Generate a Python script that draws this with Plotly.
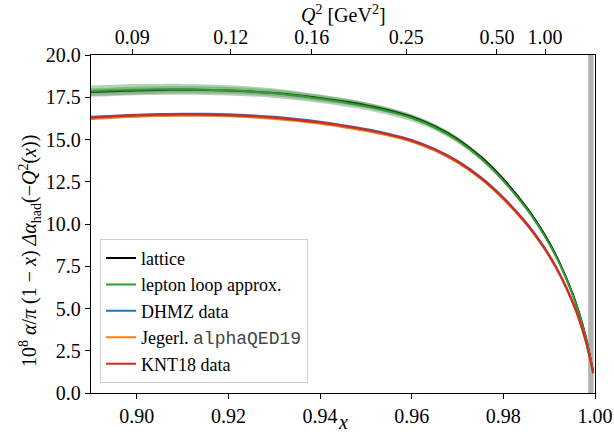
import plotly.graph_objects as go

# ---------------- data ----------------
x_vals = [0.890, 0.895, 0.900, 0.905, 0.910, 0.915, 0.920, 0.925, 0.930, 0.935,
          0.940, 0.945, 0.950, 0.955, 0.960, 0.965, 0.970, 0.975, 0.980, 0.985,
          0.9875, 0.990, 0.9925, 0.995, 0.9965, 0.998, 0.999, 0.9996]

lattice = [17.81, 17.86, 17.90, 17.93, 17.94, 17.93, 17.90, 17.84, 17.75, 17.62,
           17.45, 17.26, 17.03, 16.73, 16.35, 15.79, 15.03, 13.99, 12.65, 11.00,
           10.02, 8.90, 7.57, 5.95, 4.77, 3.30, 2.06, 1.22]
lattice_err = [0.22, 0.22, 0.22, 0.22, 0.21, 0.21, 0.20, 0.20, 0.19, 0.19,
               0.18, 0.17, 0.17, 0.16, 0.15, 0.14, 0.13, 0.12, 0.11, 0.09,
               0.08, 0.07, 0.06, 0.05, 0.04, 0.03, 0.02, 0.01]

lepton = [17.86, 17.91, 17.95, 17.97, 17.97, 17.95, 17.91, 17.84, 17.74, 17.59,
          17.41, 17.21, 16.97, 16.66, 16.27, 15.71, 14.94, 13.90, 12.56, 10.92,
          9.95, 8.83, 7.51, 5.90, 4.73, 3.27, 2.04, 1.22]
lepton_err = [0.33, 0.33, 0.33, 0.32, 0.32, 0.31, 0.30, 0.29, 0.28, 0.27,
              0.25, 0.24, 0.22, 0.21, 0.19, 0.17, 0.15, 0.13, 0.11, 0.09,
              0.08, 0.07, 0.06, 0.05, 0.04, 0.03, 0.02, 0.01]

dhmz = [16.34, 16.41, 16.47, 16.51, 16.53, 16.52, 16.49, 16.43, 16.34, 16.21,
        16.05, 15.85, 15.62, 15.34, 14.98, 14.45, 13.74, 12.79, 11.57, 10.08,
        9.19, 8.17, 6.96, 5.48, 4.42, 3.08, 1.95, 1.19]
jegerlehner = [16.22, 16.29, 16.35, 16.39, 16.41, 16.40, 16.37, 16.31, 16.22, 16.09,
               15.93, 15.73, 15.50, 15.22, 14.87, 14.34, 13.63, 12.68, 11.46, 9.98,
               9.09, 8.08, 6.87, 5.41, 4.36, 3.03, 1.91, 1.15]
knt18 = [16.29, 16.36, 16.42, 16.46, 16.48, 16.47, 16.44, 16.38, 16.29, 16.16,
         16.00, 15.80, 15.57, 15.29, 14.93, 14.40, 13.69, 12.74, 11.52, 10.03,
         9.14, 8.13, 6.92, 5.45, 4.39, 3.05, 1.93, 1.17]

# top axis: Q^2 tick labels and their positions in x
q2_tick_x = [0.8990, 0.9205, 0.9382, 0.9588, 0.9786, 0.9891]
q2_tick_labels = ["0.09", "0.12", "0.16", "0.25", "0.50", "1.00"]

x_ticks = [0.90, 0.92, 0.94, 0.96, 0.98, 1.00]
y_ticks = [0.0, 2.5, 5.0, 7.5, 10.0, 12.5, 15.0, 17.5, 20.0]

# excluded region near x = 1
cut_lo, cut_hi = 0.9985, 0.9997

X_RANGE = [0.89, 1.0]
Y_RANGE = [0.0, 20.0]

SERIF = "Liberation Serif"
FS = 20

fig = go.Figure()

def band(y, err, color):
    up = [a + b for a, b in zip(y, err)]
    lo = [a - b for a, b in zip(y, err)]
    fig.add_trace(go.Scatter(x=x_vals, y=lo, mode="lines", line=dict(width=0, shape="spline"),
                             showlegend=False, hoverinfo="skip"))
    fig.add_trace(go.Scatter(x=x_vals, y=up, mode="lines", line=dict(width=0, shape="spline"),
                             fill="tonexty", fillcolor=color, showlegend=False, hoverinfo="skip"))

band(lattice, lattice_err, "rgba(128,128,128,0.45)")
fig.add_trace(go.Scatter(x=x_vals, y=lattice, mode="lines", name="lattice", legendgroup="a",
                         line=dict(color="black", width=2, shape="spline")))
band(lepton, lepton_err, "rgba(60,150,60,0.40)")
fig.add_trace(go.Scatter(x=x_vals, y=lepton, mode="lines", name="lepton loop approx.", legendgroup="b",
                         line=dict(color="#2ca02c", width=2, shape="spline")))
fig.add_trace(go.Scatter(x=x_vals, y=dhmz, mode="lines", name="DHMZ data", legendgroup="c",
                         line=dict(color="#1f77b4", width=2, shape="spline")))
fig.add_trace(go.Scatter(x=x_vals, y=jegerlehner, mode="lines",
                         name="Jegerl. <span style=\"font-family:'Liberation Mono';color:#444\">alphaQED19</span>",
                         legendgroup="d",
                         line=dict(color="#ff7f0e", width=2, shape="spline")))
fig.add_trace(go.Scatter(x=x_vals, y=knt18, mode="lines", name="KNT18 data", legendgroup="e",
                         line=dict(color="#d62728", width=2, shape="spline")))

# invisible trace to activate the top axis
fig.add_trace(go.Scatter(x=[X_RANGE[0]], y=[Y_RANGE[0]], xaxis="x2", mode="markers",
                         marker=dict(opacity=0), showlegend=False, hoverinfo="skip"))

fig.add_shape(type="rect", xref="x", yref="paper", x0=cut_lo, x1=cut_hi, y0=0, y1=1,
              fillcolor="rgba(128,128,128,0.6)", line=dict(width=0), layer="below")

axis_common = dict(showline=True, linecolor="black", linewidth=1.3, ticks="outside",
                   ticklen=5, tickwidth=1.2, tickcolor="black", showgrid=False, zeroline=False,
                   automargin=False,
                   tickfont=dict(family=SERIF, size=FS, color="black"))

fig.update_layout(
    width=614, height=436,
    margin=dict(l=91, r=19, t=55, b=43),
    paper_bgcolor="white", plot_bgcolor="white",
    font=dict(family=SERIF, size=FS, color="black"),
    xaxis=dict(range=X_RANGE, tickvals=x_ticks, ticktext=[f"{v:.2f}" for v in x_ticks],
               mirror=False, **axis_common),
    xaxis2=dict(range=X_RANGE, overlaying="x", side="top", tickvals=q2_tick_x,
                ticktext=q2_tick_labels, ticklabelstandoff=-3, **axis_common),
    yaxis=dict(range=Y_RANGE, tickvals=y_ticks, ticktext=[f"{v:.1f}" for v in y_ticks],
               mirror=True, **axis_common),
    legend=dict(x=0.018, y=0.03, xanchor="left", yanchor="bottom",
                bgcolor="rgba(255,255,255,0.85)", bordercolor="#d0d0d0", borderwidth=1,
                font=dict(family=SERIF, size=18, color="black"),
                traceorder="grouped", tracegroupgap=0, itemwidth=30),
    showlegend=True,
)

fig.add_annotation(xref="paper", yref="paper", x=0.5, y=1.12, showarrow=False,
                   text="<i>Q</i><sup>2</sup> [GeV<sup>2</sup>]", font=dict(family=SERIF, size=FS),
                   xanchor="center", yanchor="middle")
fig.add_annotation(xref="paper", yref="paper", x=0.5, y=-0.124, showarrow=False,
                   text="<i>x</i>", font=dict(family=SERIF, size=FS),
                   xanchor="center", yanchor="bottom")
fig.add_annotation(xref="paper", yref="paper", x=-0.121, y=0.42, showarrow=False, textangle=-90,
                   text="10<sup>8</sup> <i>α</i>/<i>π</i> (1 − <i>x</i>) <i>Δα</i><sub>had</sub>(−<i>Q</i><sup>2</sup>(<i>x</i>))",
                   font=dict(family=SERIF, size=FS),
                   xanchor="center", yanchor="middle")

fig.write_html("out.html")
